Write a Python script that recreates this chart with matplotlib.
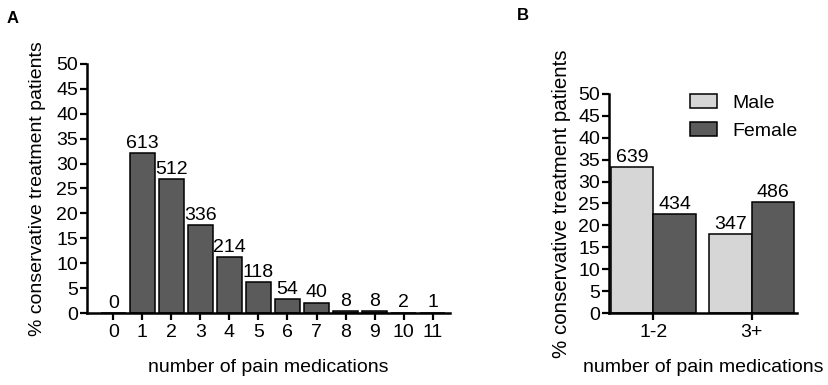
import matplotlib.pyplot as plt
import numpy as np

plt.rcParams["font.family"] = ["Liberation Sans", "DejaVu Sans"]

# Panel A data: percent of patients per number of medications, with counts
n_meds = ["0", "1", "2", "3", "4", "5", "6", "7", "8", "9", "10", "11"]
pct_a = [0.0, 32.1, 26.8, 17.6, 11.2, 6.2, 2.8, 2.1, 0.42, 0.42, 0.1, 0.05]
counts_a = [0, 613, 512, 336, 214, 118, 54, 40, 8, 8, 2, 1]

# Panel B data: by sex
groups_b = ["1-2", "3+"]
male_pct = [33.3, 18.0]
female_pct = [22.5, 25.3]
male_n = [639, 347]
female_n = [434, 486]

dark = "#5b5b5b"
light = "#d6d6d6"
fs = 14

fig = plt.figure(figsize=(8.29, 3.85), dpi=100)


def style_axis(ax):
    for s in ["top", "right"]:
        ax.spines[s].set_visible(False)
    for s in ["left", "bottom"]:
        ax.spines[s].set_linewidth(1.8)
    ax.tick_params(axis="both", width=1.6, length=5, labelsize=fs, direction="out")
    ax.tick_params(axis="y", pad=1.5)
    ax.tick_params(axis="x", pad=3)
    ax.set_ylim(0, 50)
    ax.set_yticks(np.arange(0, 51, 5))


# ---- Panel A
axA = fig.add_axes([0.105, 0.187, 0.438, 0.647])
x = np.arange(len(n_meds))
bars = axA.bar(x, pct_a, width=0.87, color=dark, edgecolor="black", linewidth=1.1)
for xi, v, c in zip(x, pct_a, counts_a):
    axA.annotate(str(c), (xi, v), xytext=(0, 1), textcoords="offset points",
                 ha="center", va="bottom", fontsize=fs)
axA.set_xticks(x)
axA.set_xticklabels(n_meds)
axA.set_xlim(-0.9, 11.6)
style_axis(axA)
axA.set_xlabel("number of pain medications", fontsize=fs, labelpad=13)
axA.set_ylabel("% conservative treatment patients", fontsize=fs, labelpad=7)

# ---- Panel B
axB = fig.add_axes([0.7346, 0.187, 0.2268, 0.569])
xb = np.arange(len(groups_b))
w = 0.43
bm = axB.bar(xb - w / 2, male_pct, width=w, color=light, edgecolor="black",
             linewidth=1.1, label="Male")
bf = axB.bar(xb + w / 2, female_pct, width=w, color=dark, edgecolor="black",
             linewidth=1.1, label="Female")
for xi, v, c in zip(xb - w / 2, male_pct, male_n):
    axB.annotate(str(c), (xi, v), xytext=(0, 1), textcoords="offset points",
                 ha="center", va="bottom", fontsize=fs)
for xi, v, c in zip(xb + w / 2, female_pct, female_n):
    axB.annotate(str(c), (xi, v), xytext=(0, 1), textcoords="offset points",
                 ha="center", va="bottom", fontsize=fs)
axB.set_xticks(xb)
axB.set_xticklabels(groups_b)
axB.set_xlim(-0.45, 1.46)
style_axis(axB)
axB.set_xlabel("number of pain medications", fontsize=fs, labelpad=13)
axB.set_ylabel("% conservative treatment patients", fontsize=fs + 0.8, labelpad=5)
axB.legend(loc="upper left", bbox_to_anchor=(0.39, 1.035), frameon=False,
           fontsize=fs, handlelength=1.4, handleheight=0.72,
           handletextpad=0.75, labelspacing=0.55, borderaxespad=0)

fig.text(0.008, 0.972, "A", fontsize=12, fontweight="bold", va="top")
fig.text(0.623, 0.98, "B", fontsize=12, fontweight="bold", va="top")

fig.savefig("out.png", dpi=100)
